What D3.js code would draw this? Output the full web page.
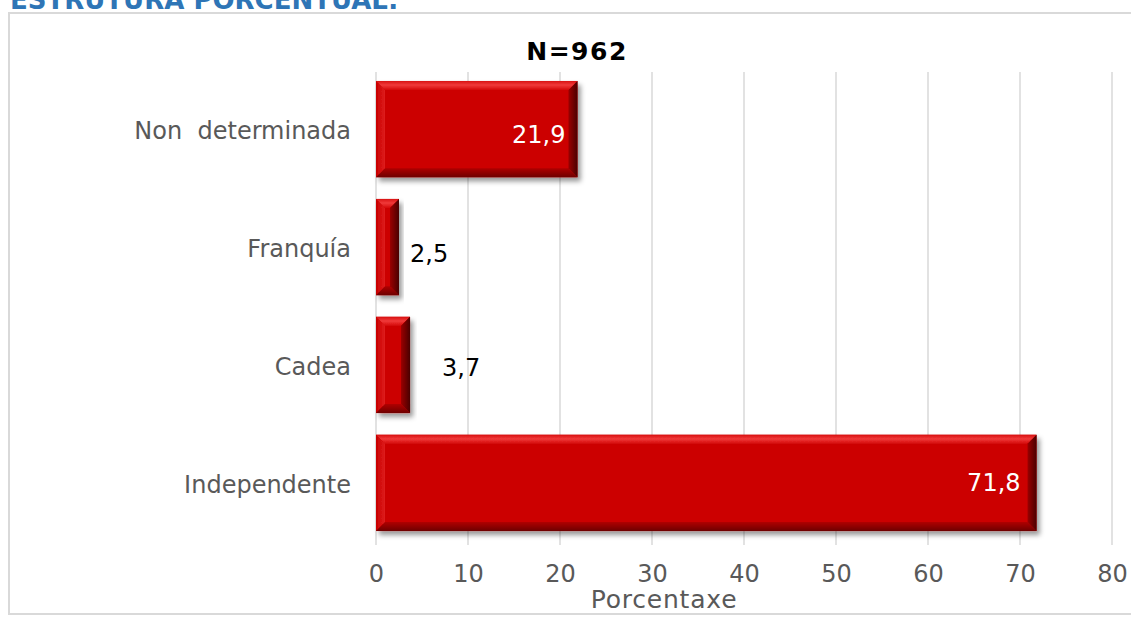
<!DOCTYPE html>
<html>
<head>
<meta charset="utf-8">
<script src="https://cdn.jsdelivr.net/npm/d3@7"></script>
<style>
  html, body { margin: 0; padding: 0; background: #ffffff; }
  svg { display: block; }
</style>
</head>
<body>
<svg id="chart" width="1131" height="617"></svg>
<script>
// Establishment type, percentage share
const categories = ["Non  determinada", "Franquía", "Cadea", "Independente"];
const values = [21.9, 2.5, 3.7, 71.8];
const valueLabels = ["21,9", "2,5", "3,7", "71,8"];
const xTicks = [0, 10, 20, 30, 40, 50, 60, 70, 80];
const headingText = "ESTRUTURA PORCENTUAL:";
const chartTitle = "N=962";
const axisTitle = "Porcentaxe";

const svg = d3.select("#chart");
const W = 1131, H = 617;
const font = "'DejaVu Sans', Verdana, sans-serif";

// Plot area
const plotLeft = 376, plotRight = 1112, plotTop = 72, plotBottom = 545;

const x = d3.scaleLinear().domain([0, 80]).range([plotLeft, plotRight]);
const y = d3.scaleBand().domain(categories).range([plotTop, 540]).paddingInner(0.184).paddingOuter(0.076);

// Defs: drop shadow and bevel gradients for the bars
const defs = svg.append("defs");
const shadow = defs.append("filter").attr("id", "barShadow")
  .attr("x", "-10%").attr("y", "-10%").attr("width", "130%").attr("height", "140%");
shadow.append("feDropShadow").attr("dx", 3).attr("dy", 4).attr("stdDeviation", 2.5)
  .attr("flood-color", "#000").attr("flood-opacity", 0.4);

const vTop = defs.append("linearGradient").attr("id", "bevelTop").attr("x1", 0).attr("y1", 0).attr("x2", 0).attr("y2", 1);
vTop.append("stop").attr("offset", "0%").attr("stop-color", "#d81010");
vTop.append("stop").attr("offset", "45%").attr("stop-color", "#f03a3a");
vTop.append("stop").attr("offset", "100%").attr("stop-color", "#d40808");

const vBot = defs.append("linearGradient").attr("id", "bevelBottom").attr("x1", 0).attr("y1", 0).attr("x2", 0).attr("y2", 1);
vBot.append("stop").attr("offset", "0%").attr("stop-color", "#b00000");
vBot.append("stop").attr("offset", "100%").attr("stop-color", "#6e0000");

const vRight = defs.append("linearGradient").attr("id", "bevelRight").attr("x1", 0).attr("y1", 0).attr("x2", 1).attr("y2", 0);
vRight.append("stop").attr("offset", "0%").attr("stop-color", "#9a0000");
vRight.append("stop").attr("offset", "100%").attr("stop-color", "#4a0000");

const vLeft = defs.append("linearGradient").attr("id", "bevelLeft").attr("x1", 0).attr("y1", 0).attr("x2", 1).attr("y2", 0);
vLeft.append("stop").attr("offset", "0%").attr("stop-color", "#c80000");
vLeft.append("stop").attr("offset", "100%").attr("stop-color", "#de1c1c");

// Heading above the chart frame (partly clipped by the page top)
svg.append("text")
  .attr("x", 10).attr("y", 9)
  .attr("font-family", font)
  .attr("font-weight", "bold").attr("font-size", 26)
  .attr("fill", "#2e75b6")
  .text(headingText);

// Chart frame
svg.append("rect")
  .attr("x", 9).attr("y", 13).attr("width", W - 9 + 5).attr("height", 601)
  .attr("fill", "none").attr("stroke", "#d9d9d9").attr("stroke-width", 2);

// Vertical gridlines
svg.append("g").selectAll("line").data(xTicks).join("line")
  .attr("x1", d => x(d)).attr("x2", d => x(d))
  .attr("y1", plotTop).attr("y2", plotBottom)
  .attr("stroke", "#d9d9d9").attr("stroke-width", 1.5);

// X axis tick labels
const xAxis = d3.axisBottom(x).tickValues(xTicks).tickSize(0).tickPadding(0).tickFormat(d3.format("d"));
const gx = svg.append("g").attr("transform", `translate(0,${plotBottom + 19})`).call(xAxis);
gx.select(".domain").remove();
gx.selectAll("text")
  .attr("font-family", font).attr("font-size", 24).attr("fill", "#595959")
  .attr("dy", "0.74em");

// Category labels
const yAxis = d3.axisLeft(y).tickSize(0).tickPadding(0);
const gy = svg.append("g").attr("transform", `translate(${plotLeft - 25},0)`).call(yAxis);
gy.select(".domain").remove();
gy.selectAll("text")
  .attr("font-family", font).attr("font-size", 24).attr("fill", "#595959")
  .attr("dy", "0.4em").style("white-space", "pre");

// Bevelled bars
const rows = categories.map((c, i) => ({ c, v: values[i], label: valueLabels[i] }));
const bev = 9;
const bars = svg.append("g").selectAll("g.bar")
  .data(rows)
  .join("g").attr("class", "bar").attr("filter", "url(#barShadow)");

bars.each(function (d) {
  const g = d3.select(this);
  const x0 = x(0), x1 = x(d.v), y0 = y(d.c), y1 = y(d.c) + y.bandwidth();
  const b = Math.min(bev, (x1 - x0) / 2.5);
  g.append("rect").attr("x", x0).attr("y", y0).attr("width", x1 - x0).attr("height", y1 - y0).attr("fill", "#cc0404");
  const poly = pts => pts.map(p => p.join(",")).join(" ");
  g.append("polygon").attr("points", poly([[x0, y0], [x1, y0], [x1 - b, y0 + b], [x0 + b, y0 + b]])).attr("fill", "url(#bevelTop)");
  g.append("polygon").attr("points", poly([[x0, y0], [x0 + b, y0 + b], [x0 + b, y1 - b], [x0, y1]])).attr("fill", "url(#bevelLeft)");
  g.append("polygon").attr("points", poly([[x0, y1], [x0 + b, y1 - b], [x1 - b, y1 - b], [x1, y1]])).attr("fill", "url(#bevelBottom)");
  g.append("polygon").attr("points", poly([[x1, y0], [x1, y1], [x1 - b, y1 - b], [x1 - b, y0 + b]])).attr("fill", "url(#bevelRight)");
});

// Value labels: inside the long bars, beside the short ones
const inside = d => d.v > 10;
const labelNudge = {
  "Non  determinada": { dx: -12, dy: 5 },
  "Franquía": { dx: 11, dy: 6.5 },
  "Cadea": { dx: 32, dy: 2.5 },
  "Independente": { dx: -16, dy: -1 }
};
svg.append("g").selectAll("text")
  .data(rows)
  .join("text")
  .attr("x", d => x(d.v) + labelNudge[d.c].dx)
  .attr("y", d => y(d.c) + y.bandwidth() / 2 + labelNudge[d.c].dy)
  .attr("dy", "0.36em")
  .attr("text-anchor", d => inside(d) ? "end" : "start")
  .attr("font-family", font).attr("font-size", 24)
  .attr("fill", d => inside(d) ? "#ffffff" : "#000000")
  .text(d => d.label);

// Chart title
svg.append("text")
  .attr("x", 577).attr("y", 60).attr("text-anchor", "middle")
  .attr("font-family", font).attr("font-weight", "bold").attr("font-size", 25)
  .attr("letter-spacing", 1.5)
  .attr("fill", "#000")
  .text(chartTitle);

// Axis title
svg.append("text")
  .attr("x", 664).attr("y", 608).attr("text-anchor", "middle")
  .attr("font-family", font).attr("font-size", 25).attr("letter-spacing", 0.8).attr("fill", "#595959")
  .text(axisTitle);
</script>
</body>
</html>
